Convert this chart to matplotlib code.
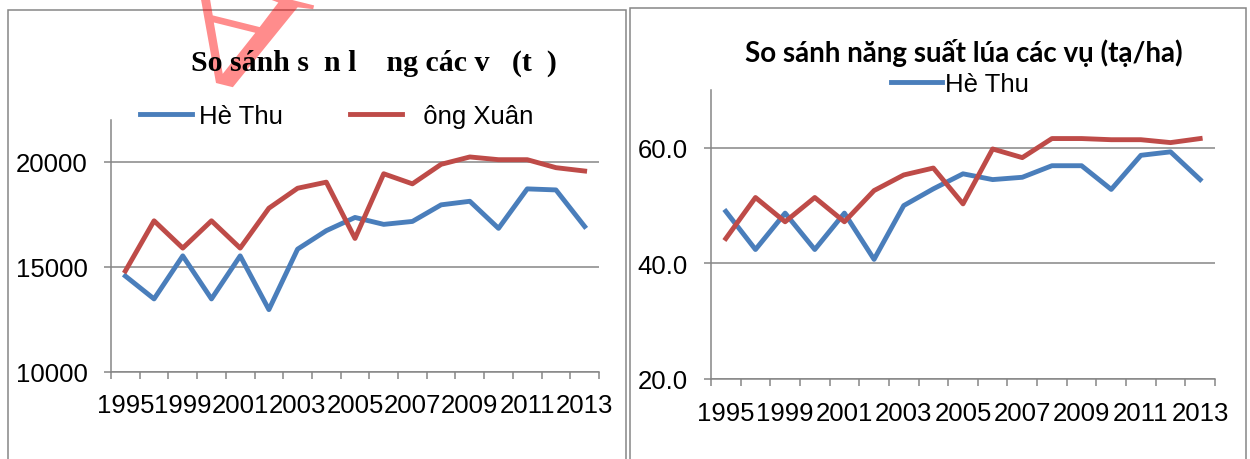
import matplotlib
matplotlib.use('Agg')
import matplotlib.pyplot as plt
from matplotlib.patches import Rectangle, PathPatch
from matplotlib.ticker import FixedLocator, FormatStrFormatter
from matplotlib.textpath import TextPath
from matplotlib.font_manager import FontProperties
from matplotlib.transforms import Affine2D, IdentityTransform

# du lieu doc tu hinh
years = ['1995', '1997', '1999', '2000', '2001', '2002', '2003', '2004', '2005',
         '2006', '2007', '2008', '2009', '2010', '2011', '2012', '2013']
san_luong_he_thu = [14570, 13480, 15530, 13480, 15530, 12970, 15850, 16730, 17360,
                    17030, 17170, 17960, 18130, 16840, 18720, 18670, 16930]
san_luong_dong_xuan = [14810, 17200, 15900, 17200, 15900, 17800, 18750, 19040, 16360,
                       19440, 18960, 19890, 20240, 20110, 20110, 19730, 19570]
nang_suat_he_thu = [49.0, 42.4, 48.7, 42.4, 48.7, 40.7, 50.0, 52.9, 55.5,
                    54.5, 54.9, 56.9, 56.9, 52.8, 58.7, 59.3, 54.5]
nang_suat_dong_xuan = [44.3, 51.4, 47.2, 51.4, 47.2, 52.6, 55.3, 56.5, 50.3,
                       59.8, 58.3, 61.6, 61.6, 61.4, 61.4, 60.9, 61.6]
series_names = ['Hè Thu', '  ông Xuân']
title_left = 'So sánh s  n l    ng các v   (t  )'
title_right = 'So sánh năng suất lúa các vụ (tạ/ha)'

BLUE = '#4A7EBB'
RED = '#BE4B48'
GREY = '#868686'
W, H = 1250, 460
FS = 18.5

plt.rcParams['font.family'] = ['Liberation Sans', 'DejaVu Sans']
fig = plt.figure(figsize=(W / 100, H / 100), dpi=100)

# khung bieu do
fig.patches.append(Rectangle((8 / W, -0.1), 618 / W, 1.1 - 11 / H, transform=fig.transFigure,
                             fill=False, edgecolor=GREY, lw=1.1))
fig.patches.append(Rectangle((630 / W, -0.1), 616 / W, 1.1 - 9 / H, transform=fig.transFigure,
                             fill=False, edgecolor=GREY, lw=1.1))


def style_axis(ax, yticks, ylim, fmt, labelpad):
    x = list(range(len(years)))
    ax.set_xlim(-0.5, len(years) - 0.5)
    ax.set_ylim(*ylim)
    ax.set_yticks(yticks)
    ax.yaxis.set_major_formatter(FormatStrFormatter(fmt))
    ax.set_xticks(x[::2])
    ax.set_xticklabels(years[::2])
    ax.xaxis.set_minor_locator(FixedLocator([i - 0.5 for i in range(len(years) + 1)]))
    for s in ['top', 'right']:
        ax.spines[s].set_visible(False)
    for s in ['left', 'bottom']:
        ax.spines[s].set_color(GREY)
        ax.spines[s].set_linewidth(1.1)
    ax.grid(axis='y', color=GREY, lw=1.1)
    ax.set_axisbelow(True)
    ax.tick_params(axis='y', length=5, width=1.1, color=GREY, pad=12, labelsize=FS)
    ax.tick_params(axis='x', which='major', length=0, pad=labelpad, labelsize=FS)
    ax.tick_params(axis='x', which='minor', length=5, width=1.1, color=GREY)


ax1 = fig.add_axes([111 / W, (H - 373) / H, 488 / W, 252 / H])
x = range(len(years))
ax1.plot(x, san_luong_he_thu, color=BLUE, lw=3.5, label=series_names[0])
ax1.plot(x, san_luong_dong_xuan, color=RED, lw=3.5, label=series_names[1])
style_axis(ax1, [10000, 15000, 20000], (10000, 22000), '%d', 15)
fig.text(374 / W, 1 - 63 / H, title_left, ha='center', va='center', fontsize=21.5,
         fontweight='bold', family='Liberation Serif')
fig.legend(handles=ax1.get_lines(), loc='center', bbox_to_anchor=(337 / W, 1 - 117 / H),
           ncol=2, frameon=False, fontsize=FS, handlelength=2.0, handletextpad=0.3,
           columnspacing=2.6, borderpad=0, borderaxespad=0)

ax2 = fig.add_axes([711 / W, (H - 380) / H, 504 / W, 289 / H])
ax2.plot(x, nang_suat_he_thu, color=BLUE, lw=3.5, label=series_names[0])
ax2.plot(x, nang_suat_dong_xuan, color=RED, lw=3.5)
style_axis(ax2, [20, 40, 60], (20, 70), '%.1f', 16)
fig.text(964 / W, 1 - 53 / H, title_right, ha='center', va='center', fontsize=20,
         fontweight='bold', family='Lato')
fig.legend(handles=ax2.get_lines()[:1], loc='center', bbox_to_anchor=(960 / W, 1 - 85 / H),
           frameon=False, fontsize=FS, handlelength=2.0, handletextpad=0.1,
           borderpad=0, borderaxespad=0)

# dau chim mau do (chu A lat nguoc o goc tren)
tp = TextPath((0, 0), 'A', size=150, prop=FontProperties(family='Liberation Serif'))
apex = tp.vertices[tp.vertices[:, 1].argmax()]
tr = (Affine2D().translate(-apex[0], -apex[1]).scale(1.25, -1).rotate_deg(-14)
      .translate(216, H - 84))
fig.patches.append(PathPatch(tr.transform_path(tp), facecolor='red', alpha=0.45, lw=0,
                             transform=IdentityTransform()))

fig.savefig('out.png', dpi=100)
